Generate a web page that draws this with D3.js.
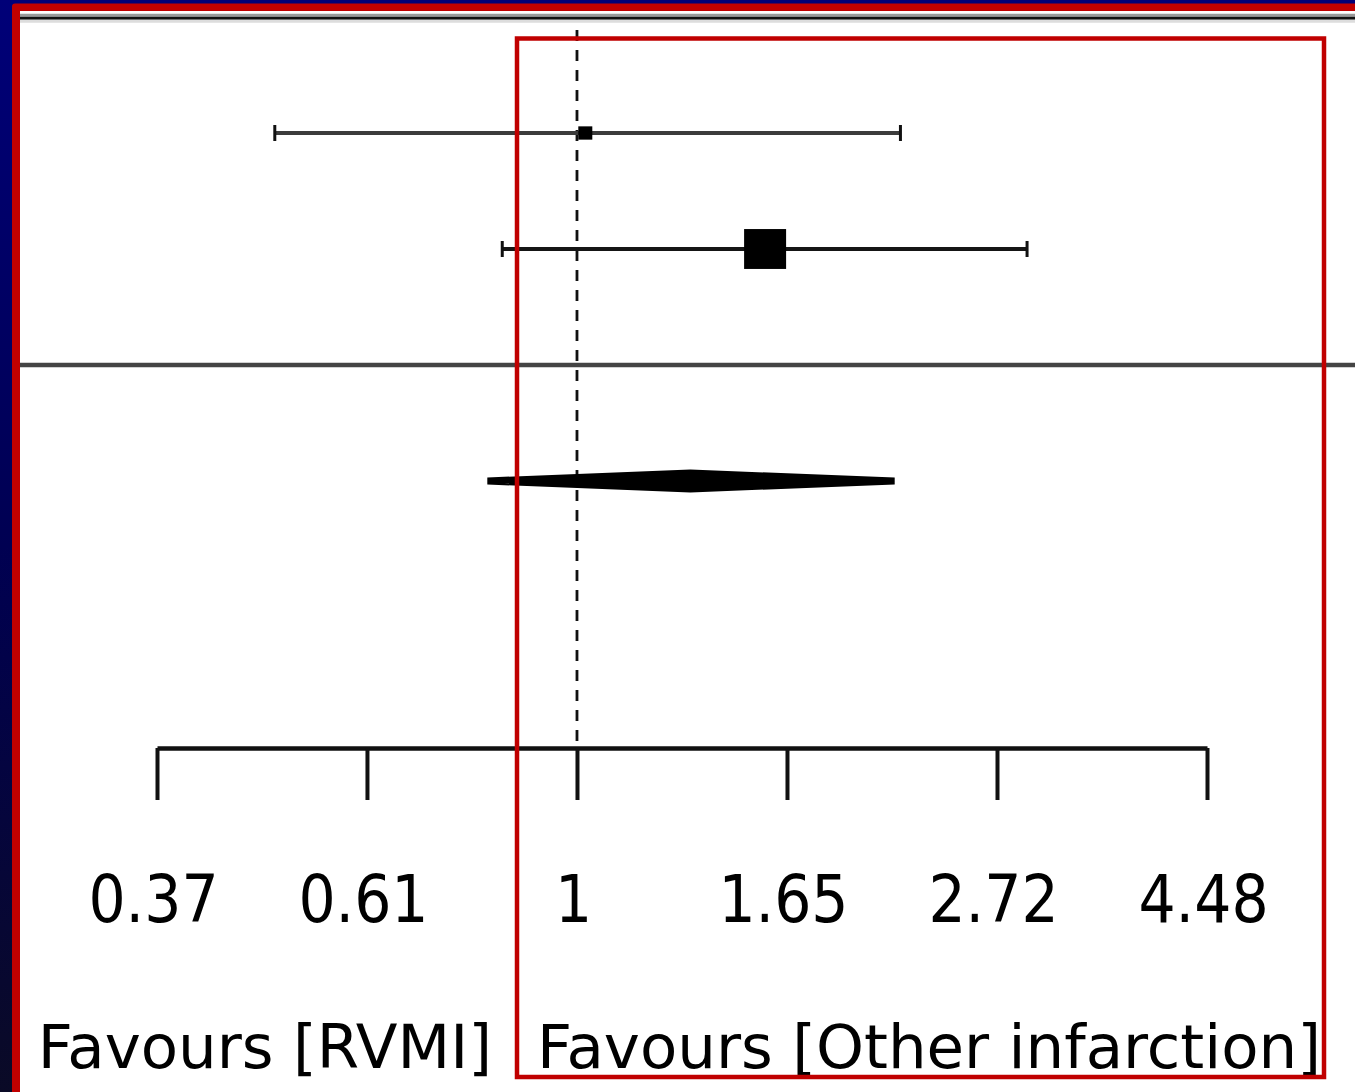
<!DOCTYPE html>
<html>
<head>
<meta charset="utf-8">
<script src="https://cdn.jsdelivr.net/npm/d3@7"></script>
<style>
  html, body { margin: 0; padding: 0; background: #fff; }
  svg { display: block; }
  .tick text { font-family: "DejaVu Sans Condensed", "DejaVu Sans", sans-serif; }
  .favours { font-family: "DejaVu Sans", sans-serif; font-size: 61px; fill: #000; }
</style>
</head>
<body>
<svg id="chart" width="1355" height="1092"></svg>
<script>
// forest plot values (odds ratio, log scale)
var estimates = [1.02, 1.565];
var lowerCI = [0.487, 0.837];
var upperCI = [2.16, 2.92];
var weights = [10, 90];
var pooled = [0.808, 1.31, 2.13]; // lower, estimate, upper
var tickValues = [0.3679, 0.6065, 1, 1.6487, 2.7183, 4.4817];
var tickLabels = ["0.37", "0.61", "1", "1.65", "2.72", "4.48"];
var sideLabels = ["Favours [RVMI]", "Favours [Other infarction]"];

var svg = d3.select("#chart"),
    width = +svg.attr("width"),
    height = +svg.attr("height");

// slide frame: navy strip, red bar, grey rules
var defs = svg.append("defs");
var grad = defs.append("linearGradient")
    .attr("id", "navy").attr("x1", 0).attr("y1", 0).attr("x2", 0).attr("y2", 1);
grad.append("stop").attr("offset", "0%").attr("stop-color", "#000078");
grad.append("stop").attr("offset", "50%").attr("stop-color", "#000052");
grad.append("stop").attr("offset", "100%").attr("stop-color", "#0a0a26");

svg.append("rect").attr("width", width).attr("height", height).attr("fill", "url(#navy)");
svg.append("rect").attr("x", 12).attr("y", 3.5).attr("width", width).attr("height", height)
    .attr("rx", 3).attr("fill", "#c00000");
svg.append("rect").attr("x", 20).attr("y", 11).attr("width", width).attr("height", height)
    .attr("fill", "#fff");
[["#999", 15.2], ["#111", 18.2], ["#ddd", 21.2]].forEach(function(r) {
    svg.append("line").attr("x1", 20).attr("x2", width).attr("y1", r[1]).attr("y2", r[1])
        .attr("stroke", r[0]).attr("stroke-width", 3);
});

var x = d3.scaleLog()
    .domain([tickValues[0], tickValues[tickValues.length - 1]])
    .range([157, 1207]);

var y = d3.scaleLinear()
    .domain([0, 1])
    .range([133, 249]);

var side = d3.scaleSqrt()
    .domain([0, d3.max(weights)])
    .range([0, 42]);

var g = svg.append("g");

// line of no effect
g.append("line")
    .attr("x1", x(1)).attr("x2", x(1))
    .attr("y1", 30).attr("y2", 745)
    .attr("stroke", "#111").attr("stroke-width", 2.8)
    .attr("stroke-dasharray", "11,9");

// separator between studies and pooled estimate
g.append("line")
    .attr("x1", 20).attr("x2", width)
    .attr("y1", y(2)).attr("y2", y(2))
    .attr("stroke", "#444").attr("stroke-width", 4.5);

// confidence intervals
var rows = g.selectAll(".study")
    .data(estimates)
    .enter().append("g")
    .attr("class", "study");

rows.append("line")
    .attr("x1", function(d, i) { return x(lowerCI[i]); })
    .attr("x2", function(d, i) { return x(upperCI[i]); })
    .attr("y1", function(d, i) { return y(i); })
    .attr("y2", function(d, i) { return y(i); })
    .attr("stroke", function(d, i) { return i == 0 ? "#3c3c3c" : "#151515"; })
    .attr("stroke-width", function(d, i) { return i == 0 ? 4 : 4; });

rows.selectAll(".cap")
    .data(function(d, i) { return [[lowerCI[i], i], [upperCI[i], i]]; })
    .enter().append("line")
    .attr("class", "cap")
    .attr("x1", function(d) { return x(d[0]); })
    .attr("x2", function(d) { return x(d[0]); })
    .attr("y1", function(d) { return y(d[1]) - 8; })
    .attr("y2", function(d) { return y(d[1]) + 8; })
    .attr("stroke", "#111").attr("stroke-width", 3);

rows.append("rect")
    .attr("x", function(d, i) { return x(d) - side(weights[i]) / 2; })
    .attr("y", function(d, i) { return y(i) - side(weights[i]) / 2 * 0.95; })
    .attr("width", function(d, i) { return side(weights[i]); })
    .attr("height", function(d, i) { return side(weights[i]) * 0.95; })
    .attr("fill", "#000");

// pooled diamond
var yp = y(3);
g.append("polygon")
    .attr("points", [
        [x(pooled[0]), yp], [x(pooled[1]), yp - 8],
        [x(pooled[2]), yp], [x(pooled[1]), yp + 8]
    ].map(function(p) { return p.join(","); }).join(" "))
    .attr("fill", "#000").attr("stroke", "#000")
    .attr("stroke-width", 7).attr("stroke-linejoin", "bevel");

// axis
var axis = g.append("g")
    .attr("transform", "translate(0,748)")
    .call(d3.axisBottom(x)
        .tickValues(tickValues)
        .tickFormat(function(d, i) { return tickLabels[i]; })
        .tickSize(52)
        .tickSizeOuter(0)
        .tickPadding(76));
axis.attr("font-size", null).attr("font-family", null);
axis.select(".domain").attr("stroke", "#111").attr("stroke-width", 4.5);
axis.selectAll(".tick line").attr("stroke", "#111").attr("stroke-width", 4);
axis.selectAll(".tick text").attr("font-size", 65).attr("fill", "#000").attr("dx", -4);

// favours labels
g.append("text").attr("class", "favours")
    .attr("x", 492).attr("y", 1068).attr("text-anchor", "end")
    .text(sideLabels[0]);
g.append("text").attr("class", "favours")
    .attr("x", 537).attr("y", 1068)
    .text(sideLabels[1]);

// highlight box
svg.append("rect")
    .attr("x", 517).attr("y", 38.5)
    .attr("width", 1324 - 517).attr("height", 1077 - 38.5)
    .attr("fill", "none")
    .attr("stroke", "#c00000").attr("stroke-width", 4.5);
</script>
</body>
</html>
